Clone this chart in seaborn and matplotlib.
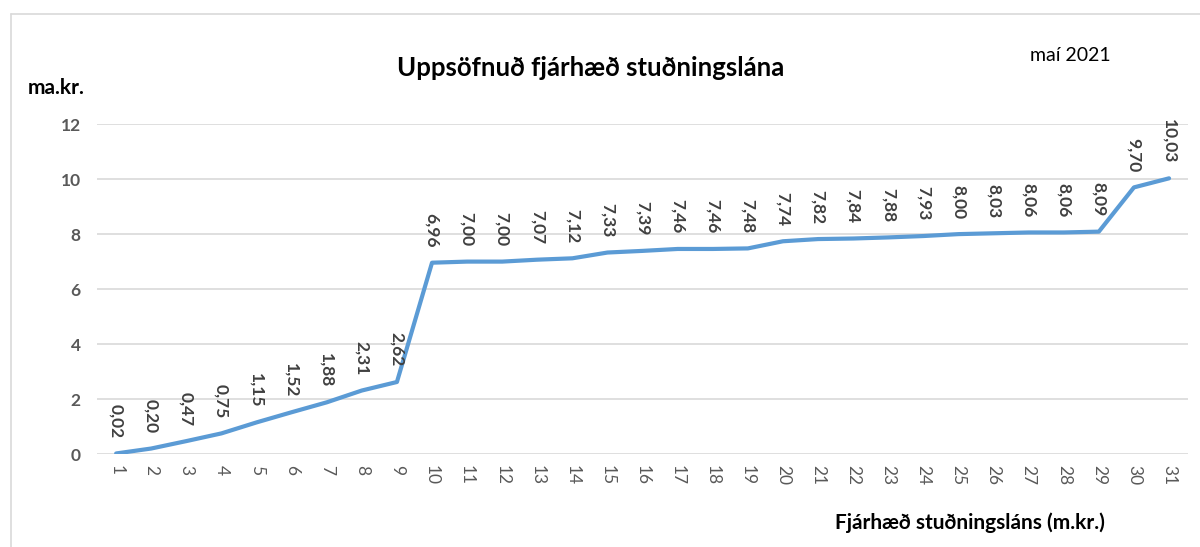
import numpy as np
import pandas as pd
import matplotlib
matplotlib.use("Agg")
import matplotlib.pyplot as plt
import seaborn as sns
from matplotlib.lines import Line2D

sns.set_theme(style="white")
plt.rcParams['font.family'] = ['Lato', 'DejaVu Sans']

# data
lanaflokkar = list(range(1, 32))
uppsafnad = [0.02, 0.20, 0.47, 0.75, 1.15, 1.52, 1.88, 2.31, 2.62, 6.96,
             7.00, 7.00, 7.07, 7.12, 7.33, 7.39, 7.46, 7.46, 7.48, 7.74,
             7.82, 7.84, 7.88, 7.93, 8.00, 8.03, 8.06, 8.06, 8.09, 9.70,
             10.03]
y_ticks = [0, 2, 4, 6, 8, 10, 12]

df = pd.DataFrame({"flokkur": lanaflokkar, "upphaed": uppsafnad})

grey = "#595959"
fig = plt.figure(figsize=(12, 5.47), dpi=100)
ax = fig.add_axes([0.081, 0.170, 0.909, 0.603])

sns.lineplot(data=df, x="flokkur", y="upphaed", ax=ax, color="#5B9BD5",
             linewidth=3.0, solid_joinstyle="round")

ax.set_xlim(0.46, 31.54)
ax.set_ylim(0, 12)
ax.set_yticks(y_ticks)
ax.set_xticks(lanaflokkar)
ax.set_xticklabels([str(v) for v in lanaflokkar], rotation=270,
                   fontsize=12.5, color=grey)
ax.set_yticklabels([str(v) for v in y_ticks], fontsize=12.5, color=grey,
                   fontweight="bold")
ax.tick_params(axis="both", length=0, pad=12)
ax.tick_params(axis="x", pad=8)
ax.grid(axis="y", color="#D9D9D9", linewidth=1.2)
for s in ax.spines.values():
    s.set_visible(False)
ax.set_xlabel("")
ax.set_ylabel("")

for xv, yv in zip(lanaflokkar, uppsafnad):
    ax.annotate(f"{yv:.2f}".replace(".", ","), (xv, yv), xytext=(0, 11),
                textcoords="offset points", rotation=270, ha="center",
                va="bottom", fontsize=12.5, color="#404040", fontweight="bold")

fig.text(0.492, 0.875, "Uppsöfnuð fjárhæð stuðningslána", ha="center",
         va="center", fontsize=18.5, fontweight="bold", color="black")
fig.text(0.892, 0.898, "maí 2021", ha="center", va="center", fontsize=14,
         color="black")
fig.text(0.023, 0.84, "ma.kr.", ha="left", va="center", fontsize=15,
         fontweight="bold", color="black")
fig.text(0.808, 0.045, "Fjárhæð stuðningsláns (m.kr.)", ha="center",
         va="center", fontsize=15, fontweight="bold", color="black")

# chart frame (cropped at right and bottom in the reference)
fig.add_artist(Line2D([0.009, 1.0], [0.974, 0.974], color="#D9D9D9",
                      linewidth=1.2, transform=fig.transFigure))
fig.add_artist(Line2D([0.009, 0.009], [0.0, 0.974], color="#D9D9D9",
                      linewidth=1.2, transform=fig.transFigure))

fig.savefig("out.png", dpi=100, facecolor="white")
